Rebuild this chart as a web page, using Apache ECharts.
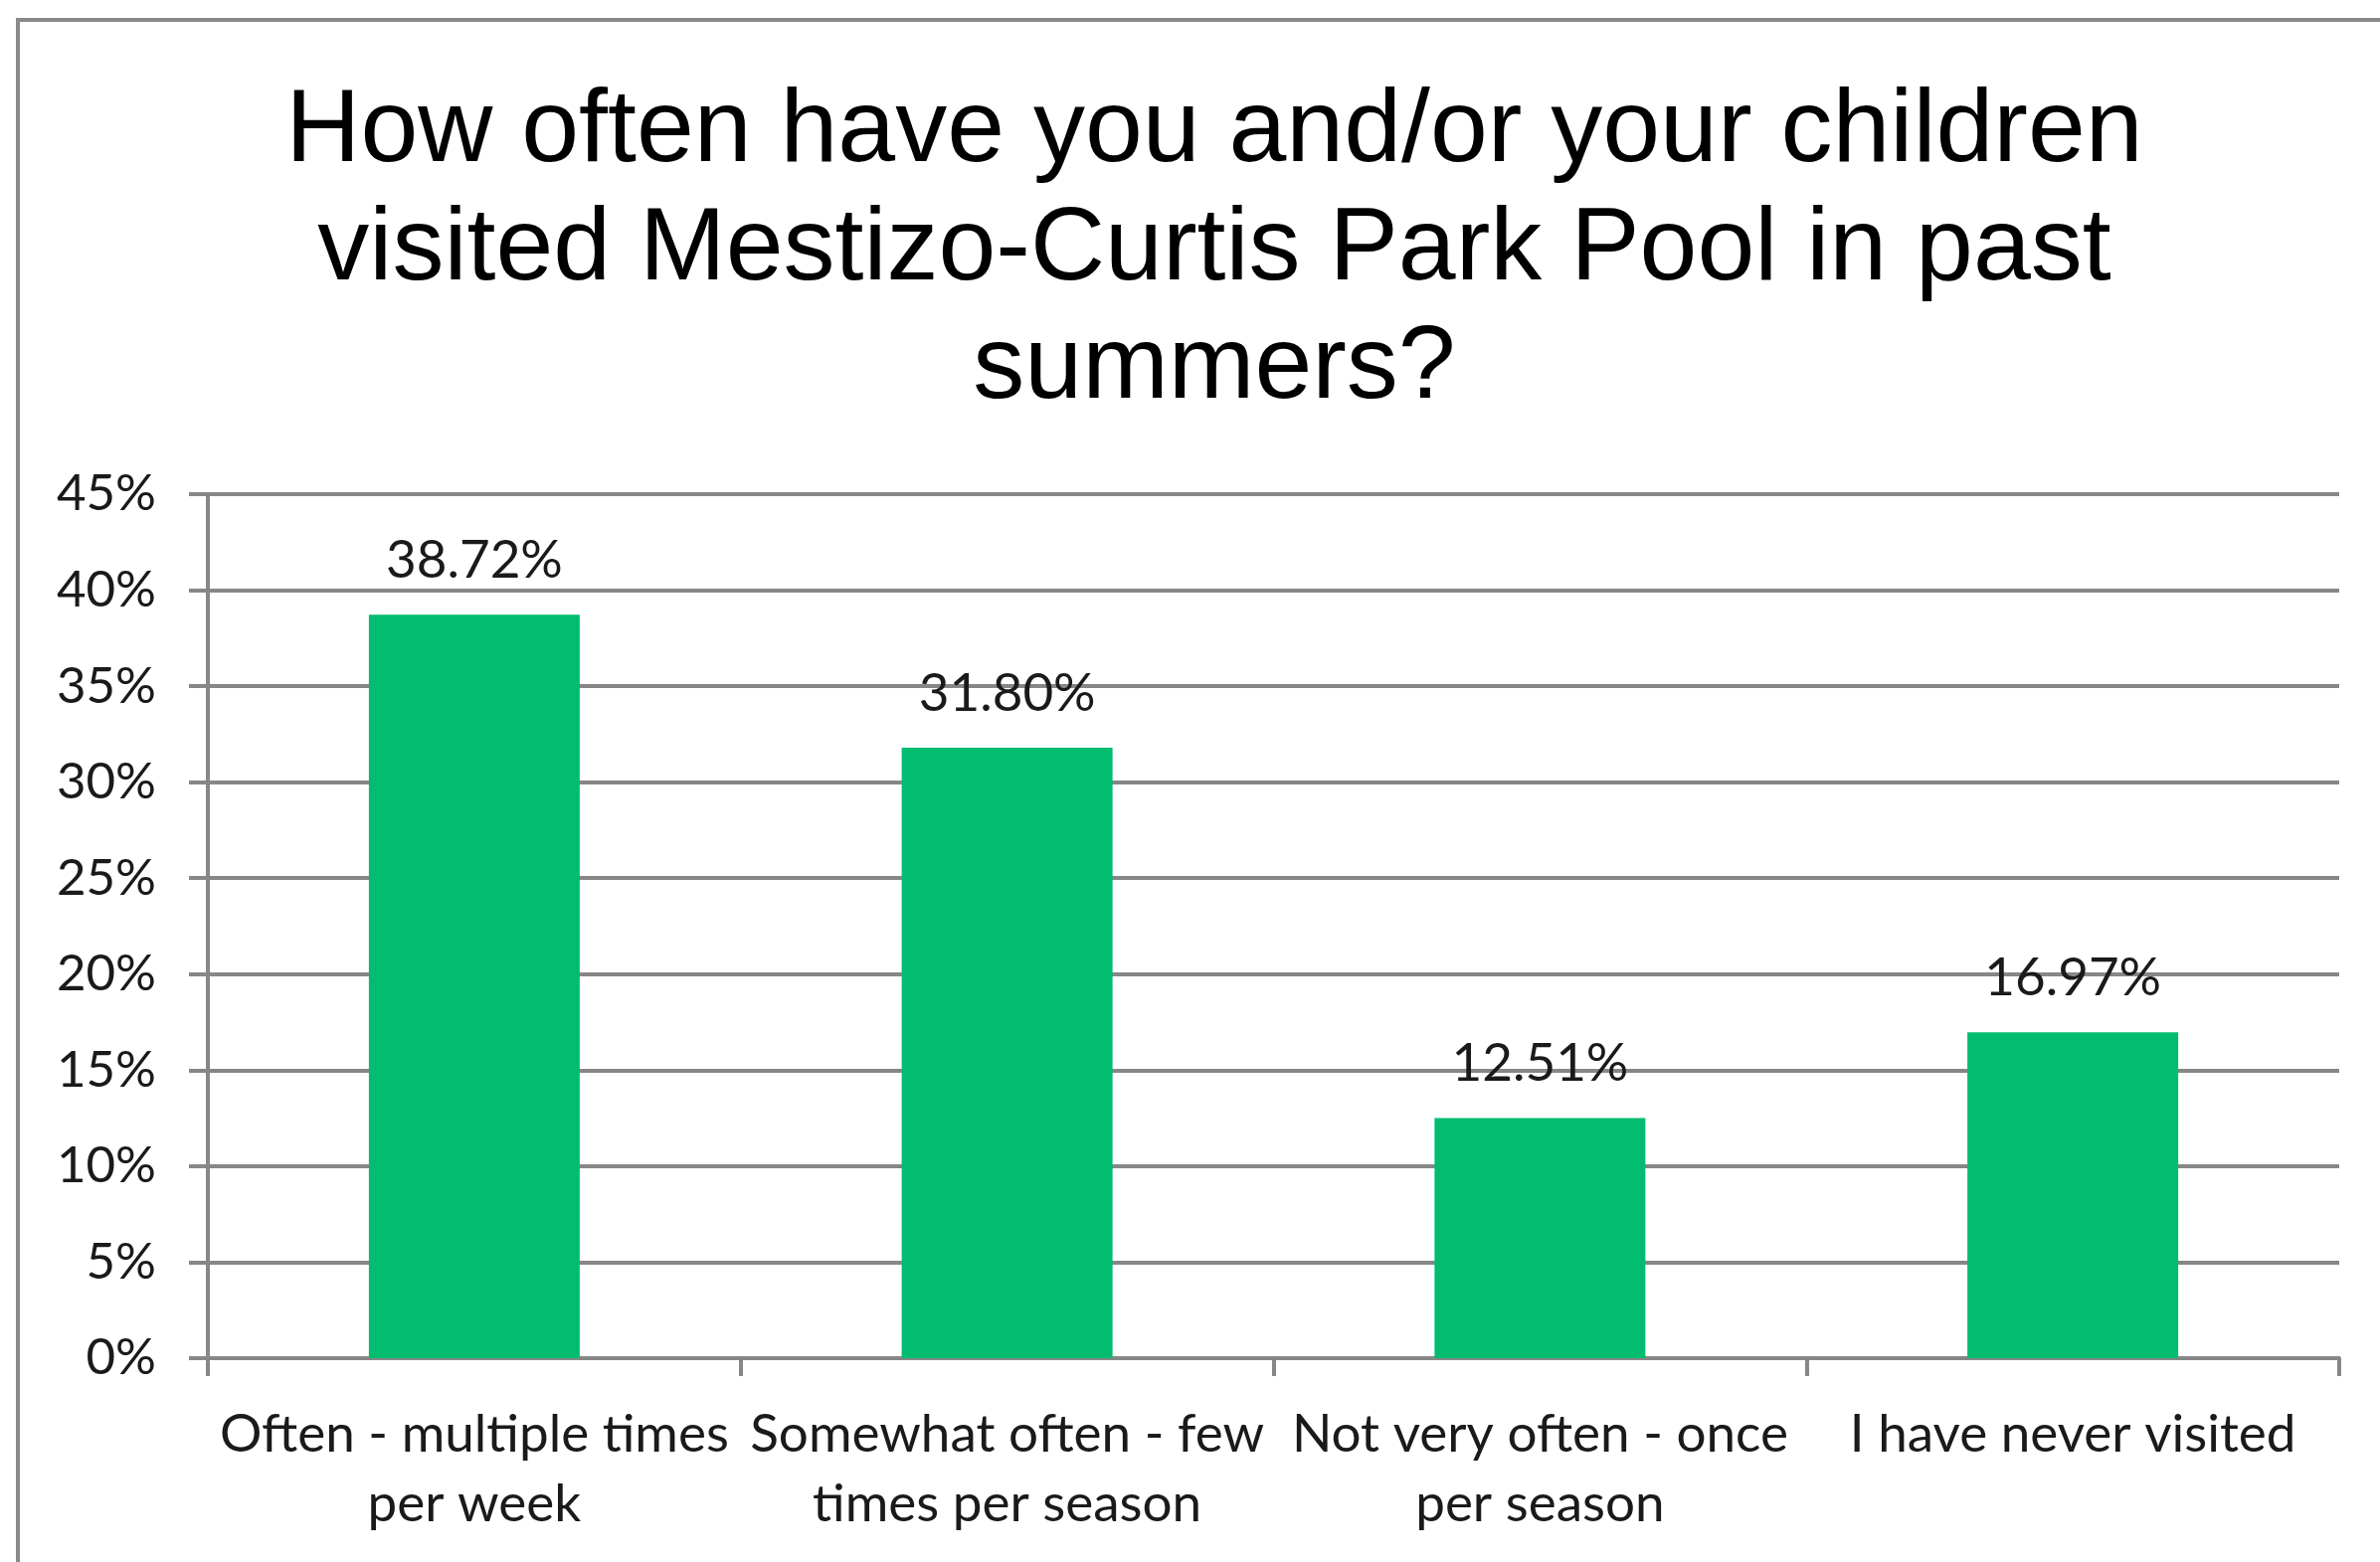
<!DOCTYPE html>
<html>
<head>
<meta charset="utf-8">
<script src="https://cdn.jsdelivr.net/npm/echarts@6/dist/echarts.min.js"></script>
<style>
html,body{margin:0;padding:0;background:#fff;}
#chart{width:2393px;height:1571px;}
</style>
</head>
<body>
<div id="chart"></div>
<script>
const titleText = "How often have you and/or your children\nvisited Mestizo-Curtis Park Pool in past\nsummers?";
const categories = [
  "Often - multiple times\nper week",
  "Somewhat often - few\ntimes per season",
  "Not very often - once\nper season",
  "I have never visited"
];
const values = [38.72, 31.80, 12.51, 16.97];
const yTicks = [0, 5, 10, 15, 20, 25, 30, 35, 40, 45];

const chart = echarts.init(document.getElementById('chart'));
const labelFont = 'Lato, "Open Sans", sans-serif';
chart.setOption({
  backgroundColor: '#ffffff',
  animation: false,
  graphic: [{
    type: 'rect',
    shape: {x: 18, y: 20, width: 2400, height: 1600},
    style: {fill: 'none', stroke: '#8a8a8a', lineWidth: 4},
    silent: true
  }],
  title: {
    text: titleText,
    left: 1216,
    textAlign: 'center',
    top: 69,
    textStyle: {
      fontFamily: '"Liberation Sans", Arial, sans-serif',
      fontSize: 104,
      fontWeight: 'normal',
      color: '#000',
      lineHeight: 119
    }
  },
  grid: {left: 209, right: 41, top: 497, bottom: 205, containLabel: false},
  xAxis: {
    type: 'category',
    data: categories,
    boundaryGap: true,
    axisLine: {lineStyle: {color: '#878787', width: 4}},
    axisTick: {show: true, length: 18, lineStyle: {color: '#878787', width: 4}},
    axisLabel: {
      interval: 0,
      margin: 42,
      fontFamily: labelFont,
      fontSize: 53,
      color: '#1a1a1a',
      lineHeight: 70
    }
  },
  yAxis: {
    type: 'value',
    min: 0,
    max: 45,
    interval: 5,
    axisLine: {show: true, lineStyle: {color: '#878787', width: 4}},
    axisTick: {show: true, length: 19, lineStyle: {color: '#878787', width: 4}},
    splitLine: {show: true, lineStyle: {color: '#878787', width: 4}},
    axisLabel: {
      margin: 52,
      fontFamily: labelFont,
      fontSize: 51,
      color: '#1a1a1a',
      formatter: function (v) { return yTicks.indexOf(v) >= 0 ? v + '%' : ''; }
    }
  },
  series: [{
    type: 'bar',
    data: values,
    barWidth: 212,
    itemStyle: {color: '#02BC6F'},
    label: {
      show: true,
      position: 'top',
      distance: 28,
      fontFamily: labelFont,
      fontSize: 53,
      color: '#1a1a1a',
      formatter: function (p) { return p.value.toFixed(2) + '%'; }
    }
  }]
});
</script>
</body>
</html>
